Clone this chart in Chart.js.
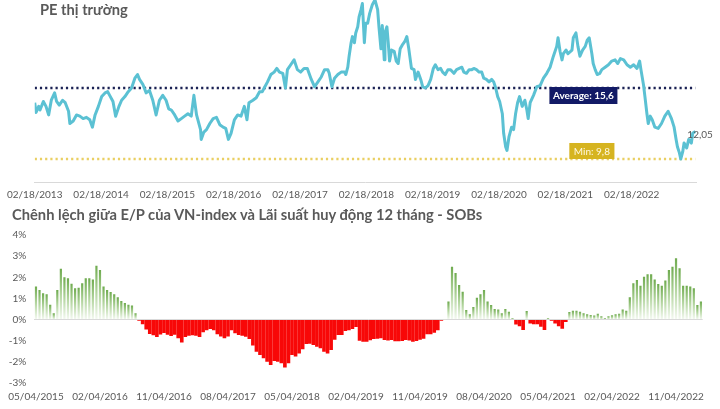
<!DOCTYPE html>
<html><head><meta charset="utf-8">
<script src="https://cdn.jsdelivr.net/npm/chart.js@4.4.1/dist/chart.umd.min.js"></script>
<style>
html,body{margin:0;padding:0;background:#fff;width:720px;height:409px;overflow:hidden;font-family:Lato,sans-serif}
#top{position:absolute;left:0;top:0;width:720px;height:205px}
#bot{position:absolute;left:0;top:205px;width:720px;height:204px}
.t{position:absolute;font-weight:bold;font-size:14.7px;line-height:17px;color:#595959;white-space:nowrap}
</style></head><body>
<div id="top"><canvas id="c1"></canvas></div>
<div id="bot"><canvas id="c2"></canvas></div>
<div class="t" style="left:40px;top:1px">PE thị trường</div>
<div class="t" style="left:12px;top:206px">Chênh lệch giữa E/P của VN-index và Lãi suất huy động 12 tháng - SOBs</div>
<script>
// ---------- PE chart data (dates as decimal years, PE values) ----------
const peDates = [
2013.13,2013.15,2013.19,2013.21,2013.26,2013.30,2013.34,2013.38,2013.43,2013.46,
2013.50,2013.55,2013.59,2013.64,2013.66,2013.71,2013.76,2013.81,2013.86,2013.91,
2013.96,2014.00,2014.04,2014.09,2014.14,2014.19,2014.23,2014.26,2014.31,2014.35,
2014.40,2014.44,2014.49,2014.54,2014.59,2014.64,2014.68,2014.71,2014.76,2014.81,
2014.86,2014.91,2014.96,2015.01,2015.06,2015.11,2015.15,2015.19,2015.24,2015.29,
2015.34,2015.39,2015.44,2015.49,2015.53,2015.57,2015.63,2015.64,2015.68,2015.72,
2015.77,2015.82,2015.87,2015.92,2015.97,2016.01,2016.05,2016.09,2016.14,2016.19,
2016.24,2016.29,2016.33,2016.36,2016.42,2016.47,2016.52,2016.56,2016.59,2016.64,
2016.69,2016.74,2016.78,2016.82,2016.87,2016.91,2016.94,2016.99,2017.04,2017.09,
2017.14,2017.19,2017.24,2017.30,2017.35,2017.40,2017.45,2017.50,2017.55,2017.57,
2017.61,2017.65,2017.70,2017.75,2017.80,2017.82,2017.85,2017.87,2017.90,2017.92,
2017.95,2017.97,2018.00,2018.02,2018.05,2018.07,2018.10,2018.12,2018.15,2018.18,
2018.22,2018.26,2018.30,2018.32,2018.35,2018.37,2018.40,2018.41,2018.44,2018.46,
2018.48,2018.51,2018.55,2018.58,2018.61,2018.64,2018.67,2018.71,2018.74,2018.77,
2018.81,2018.85,2018.87,2018.91,2018.95,2018.98,2019.02,2019.06,2019.10,2019.14,
2019.17,2019.21,2019.25,2019.28,2019.32,2019.36,2019.40,2019.45,2019.49,2019.53,
2019.57,2019.60,2019.64,2019.68,2019.72,2019.75,2019.79,2019.83,2019.87,2019.90,
2019.94,2019.98,2020.02,2020.05,2020.08,2020.11,2020.14,2020.18,2020.20,2020.23,
2020.25,2020.28,2020.32,2020.35,2020.38,2020.41,2020.44,2020.48,2020.52,2020.55,
2020.57,2020.60,2020.65,2020.70,2020.75,2020.80,2020.85,2020.90,2020.95,2021.00,
2021.02,2021.05,2021.08,2021.10,2021.14,2021.17,2021.23,2021.25,2021.29,2021.32,
2021.35,2021.39,2021.43,2021.46,2021.49,2021.53,2021.55,2021.58,2021.61,2021.65,
2021.68,2021.73,2021.78,2021.83,2021.88,2021.92,2021.96,2022.01,2022.06,2022.11,
2022.16,2022.21,2022.25,2022.27,2022.31,2022.33,2022.36,2022.38,2022.41,2022.44,
2022.48,2022.53,2022.58,2022.63,2022.68,2022.73,2022.77,2022.80,2022.82,2022.85,
2022.87,2022.90,2022.92,2022.96,2022.99,2023.03,2023.05,2023.09
];
const peValues = [
14.4,13.6,14.1,13.8,14.5,14.1,13.4,14.6,15.2,14.5,
14.2,14.6,14.4,13.7,12.7,12.9,13.4,13.3,13.1,13.2,
13.0,12.4,13.4,14.1,14.9,15.2,15.3,15.0,14.5,13.3,
14.1,14.6,14.9,15.3,15.6,16.4,16.7,16.3,15.9,15.2,
15.4,14.6,13.4,14.6,15.0,14.6,13.9,13.8,13.4,12.9,
13.1,13.3,13.5,13.3,15.0,13.4,12.2,11.4,12.0,12.2,
12.7,13.1,13.2,12.6,12.4,12.3,11.4,11.9,13.0,13.4,
13.3,14.1,13.0,14.4,14.6,14.8,15.3,15.3,15.6,16.1,
16.7,16.9,17.2,16.9,16.8,15.6,17.1,17.5,17.9,17.1,
16.9,17.2,17.2,16.3,15.7,16.1,16.5,17.1,17.1,16.8,
15.7,16.4,16.7,16.9,16.9,16.7,17.3,18.2,19.3,19.8,
19.3,20.1,20.6,21.4,22.0,22.5,19.3,20.9,20.9,21.7,
22.4,22.8,22.0,20.6,18.8,20.7,17.9,20.1,20.6,19.3,
17.8,18.7,18.6,17.8,17.6,18.8,19.1,19.4,19.8,18.8,
17.2,17.1,16.3,16.9,16.3,15.7,15.6,15.8,16.3,17.2,
17.5,17.1,17.2,16.9,16.7,17.1,17.1,16.8,17.1,17.2,
17.3,16.9,16.8,17.1,17.1,17.2,17.1,16.9,16.9,16.4,
16.3,16.1,16.3,16.1,15.6,14.9,14.5,13.5,11.9,10.8,
10.5,11.6,12.4,12.2,13.5,14.4,14.9,14.1,14.6,13.8,
13.1,14.4,15.0,15.7,15.8,16.4,16.8,17.3,18.2,19.0,
19.7,18.6,17.9,18.4,18.7,18.4,18.7,19.7,20.1,19.0,
18.2,18.7,19.0,19.5,19.7,18.4,17.6,17.1,16.7,16.8,
17.1,17.3,17.5,17.8,17.9,17.6,18.0,17.9,17.5,17.3,
17.5,17.2,17.8,17.1,15.8,14.9,13.5,12.7,13.3,13.0,
12.4,12.3,12.7,13.3,13.7,13.1,12.4,11.4,10.8,10.3,
9.8,10.4,11.1,10.7,11.4,11.1,11.9,12.05
];
const peTickDates = [2013.13,2014.13,2015.13,2016.13,2017.13,2018.13,2019.13,2020.13,2021.13,2022.13];
const peTickLabels = ['02/18/2013','02/18/2014','02/18/2015','02/18/2016','02/18/2017','02/18/2018','02/18/2019','02/18/2020','02/18/2021','02/18/2022'];
const PE_AVG = 15.6;
const PE_MIN = 9.8;
const PE_X_MIN = 2013.13, PE_X_MAX = 2023.10;
const PE_Y_MIN = 7.92, PE_Y_MAX = 22.79;
const AVG_LABEL_DATE = 2020.89;
const MIN_LABEL_DATE = 2021.19;

// ---------- E/P spread data (semi-monthly, %) ----------
const epValues = [
1.56,1.4,1.24,1.2,0.7,0.3,1.4,2.4,2.0,1.95,
1.7,1.48,1.5,1.72,1.95,1.95,1.9,2.55,2.35,1.56,
1.4,1.3,1.2,1.05,0.88,0.78,0.7,0.67,0.3,-0.05,
-0.22,-0.47,-0.68,-0.74,-0.82,-0.71,-0.63,-0.72,-0.78,-0.72,
-0.88,-1.08,-0.82,-0.77,-0.74,-0.76,-0.82,-0.6,-0.5,-0.45,
-0.5,-0.7,-0.8,-0.88,-0.8,-0.5,-0.65,-0.73,-0.76,-0.81,
-0.92,-1.23,-1.52,-1.67,-1.83,-1.99,-2.15,-1.96,-1.99,-2.07,
-2.27,-2.07,-1.67,-1.75,-1.6,-1.4,-1.15,-1.14,-1.2,-1.28,
-1.36,-1.52,-1.6,-1.44,-0.96,-0.73,-0.73,-0.54,-0.51,-0.45,
-0.35,-1.0,-1.05,-1.05,-0.98,-0.92,-0.91,-0.88,-0.97,-0.99,
-0.97,-1.03,-1.03,-1.01,-0.97,-0.99,-1.05,-1.01,-0.96,-0.91,
-0.7,-0.7,-0.62,-0.5,-0.05,0.02,0.85,2.5,2.2,1.64,
1.32,0.45,0.25,0.6,1.03,1.2,1.4,0.85,0.69,0.5,
0.48,0.3,0.5,0.37,0.06,-0.23,-0.31,-0.49,0.4,-0.18,
-0.22,-0.22,-0.34,-0.49,0.08,-0.05,-0.18,-0.31,-0.43,-0.12,
0.36,0.42,0.42,0.37,0.3,0.25,0.22,0.19,0.27,0.16,
0.08,0.16,0.21,0.25,0.28,0.48,0.42,1.05,1.72,1.87,
1.6,2.03,2.14,2.14,1.9,1.68,1.6,1.85,2.35,2.5,
2.9,2.43,1.6,1.6,1.56,1.48,0.69,0.85
];
const epTickLabels = ['05/04/2015','02/04/2016','11/04/2016','08/04/2017','05/04/2018','02/04/2019','11/04/2019','08/04/2020','05/04/2021','02/04/2022','11/04/2022'];
const EP_TICK_EVERY = 18; // ticks every 9 months (2 bars per month)
const EP_Y_MIN = -3, EP_Y_MAX = 4;

const FONT = 'Lato, sans-serif';
const GRAY = '#595959';

// ---------- Top chart ----------
const pePoints = peDates.map((d, i) => ({x: d, y: peValues[i]}));
const peLabelPlugin = {
  id: 'peLabels',
  afterDatasetsDraw(chart) {
    const {ctx, scales: {x, y}} = chart;
    ctx.save();
    ctx.textBaseline = 'middle';
    // Average label
    const ax = x.getPixelForValue(AVG_LABEL_DATE), ay = y.getPixelForValue(PE_AVG);
    ctx.font = 'bold 10px ' + FONT;
    const at = 'Average: ' + String(PE_AVG).replace('.', ',');
    const aw = ctx.measureText(at).width + 7;
    ctx.fillStyle = '#121a66';
    ctx.fillRect(ax, ay - 1, aw, 17);
    ctx.fillStyle = '#ffffff';
    ctx.fillText(at, ax + 3.5, ay + 7.5);
    // Min label
    const mx = x.getPixelForValue(MIN_LABEL_DATE), my = y.getPixelForValue(PE_MIN);
    ctx.font = '10px ' + FONT;
    const mt = 'Min: ' + String(PE_MIN).replace('.', ',');
    const mw = ctx.measureText(mt).width + 9;
    ctx.fillStyle = '#d6b420';
    ctx.fillRect(mx, my - 16, mw, 16);
    ctx.fillStyle = '#fff8e0';
    ctx.fillText(mt, mx + 4.5, my - 7.5);
    // last value label
    const last = peValues.length - 1;
    const lx = x.getPixelForValue(peDates[last]), ly = y.getPixelForValue(peValues[last]);
    ctx.font = '10px ' + FONT;
    ctx.fillStyle = GRAY;
    ctx.fillText(String(peValues[last]).replace('.', ','), lx - 8, ly + 3.5);
    ctx.restore();
  }
};

new Chart(document.getElementById('c1'), {
  type: 'line',
  data: {
    datasets: [
      {data: pePoints, borderColor: '#5bc1d3', borderWidth: 3, pointRadius: 0, tension: 0, order: 0, borderJoinStyle: 'round'},
      {data: [{x: PE_X_MIN, y: PE_AVG}, {x: peDates[peDates.length - 1], y: PE_AVG}], borderColor: '#1b2254', borderWidth: 2.4, borderDash: [2.2, 3], pointRadius: 0, order: 1},
      {data: [{x: PE_X_MIN, y: PE_MIN}, {x: peDates[peDates.length - 1], y: PE_MIN}], borderColor: '#e9cf63', borderWidth: 2.4, borderDash: [2.2, 3], pointRadius: 0, order: 2}
    ]
  },
  options: {
    responsive: true, maintainAspectRatio: false, animation: false,
    layout: {padding: {left: 33, right: 24, top: 0, bottom: 4}},
    scales: {
      x: {
        type: 'linear', min: PE_X_MIN, max: PE_X_MAX,
        afterBuildTicks: (s) => { s.ticks = peTickDates.map(v => ({value: v})); },
        afterFit: (s) => { s.height = 19; },
        ticks: {autoSkip: false, maxRotation: 0, padding: 7, color: GRAY, font: {family: FONT, size: 10},
                callback: (v, i) => peTickLabels[i]},
        grid: {display: false, drawTicks: false},
        border: {display: true, color: '#d9d9d9', width: 1}
      },
      y: {display: false, min: PE_Y_MIN, max: PE_Y_MAX}
    },
    plugins: {legend: {display: false}, tooltip: {enabled: false}}
  },
  plugins: [peLabelPlugin]
});

// ---------- Bottom chart ----------
const epLabels = epValues.map((_, i) => i % EP_TICK_EVERY === 0 ? (epTickLabels[i / EP_TICK_EVERY] || '') : '');
const greenFill = (c) => {
  const chart = c.chart;
  const v = c.raw;
  if (v == null || !chart.chartArea) return 'rgba(0,0,0,0)';
  const y = chart.scales.y;
  const top = y.getPixelForValue(v), base = y.getPixelForValue(0);
  const g = chart.ctx.createLinearGradient(0, top, 0, base + 0.01);
  g.addColorStop(0, '#6fab4f');
  g.addColorStop(0.5, '#b3d59f');
  g.addColorStop(1, '#f5faf2');
  return g;
};

new Chart(document.getElementById('c2'), {
  type: 'bar',
  data: {
    labels: epLabels,
    datasets: [
      {data: epValues.map(v => v >= 0 ? v : null), backgroundColor: greenFill, barPercentage: 0.62, categoryPercentage: 1, grouped: false},
      {data: epValues.map(v => v < 0 ? v : null), backgroundColor: '#f80808', barPercentage: 1.02, categoryPercentage: 1, grouped: false}
    ]
  },
  options: {
    responsive: true, maintainAspectRatio: false, animation: false,
    layout: {padding: {left: 0, right: 17.3, top: 30, bottom: 6}},
    scales: {
      x: {
        offset: true,
        afterFit: (s) => { s.height = 20; },
        grid: {display: false, drawTicks: false},
        border: {display: false},
        ticks: {autoSkip: false, maxRotation: 0, padding: 8, color: GRAY, font: {family: FONT, size: 10},
                callback: (v, i) => epLabels[i]}
      },
      y: {
        min: EP_Y_MIN, max: EP_Y_MAX,
        afterFit: (s) => { s.width = 34.2; },
        ticks: {stepSize: 1, padding: 8, color: GRAY, font: {family: FONT, size: 10}, callback: v => v + '%'},
        grid: {drawTicks: false, lineWidth: 1, color: (c) => c.tick && c.tick.value === 0 ? '#d9d9d9' : 'rgba(0,0,0,0)'},
        border: {display: false}
      }
    },
    plugins: {legend: {display: false}, tooltip: {enabled: false}}
  }
});
</script>
</body></html>
